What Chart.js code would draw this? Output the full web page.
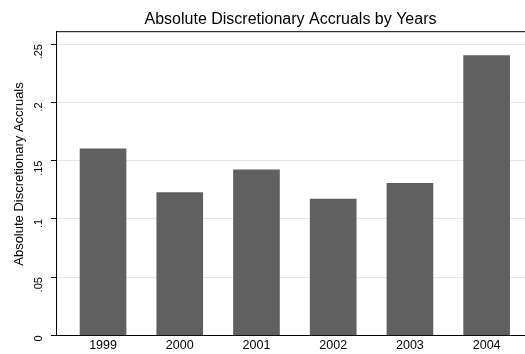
<!DOCTYPE html>
<html>
<head>
<meta charset="utf-8">
<script src="https://cdn.jsdelivr.net/npm/chart.js@4"></script>
<style>
  html, body { margin: 0; padding: 0; background: #fff; }
  #wrap { width: 525px; height: 354px; }
</style>
</head>
<body>
<div id="wrap"><canvas id="c"></canvas></div>
<script>
const years = [1999, 2000, 2001, 2002, 2003, 2004];
const accruals = [0.160, 0.1225, 0.142, 0.117, 0.1305, 0.240];
const yTicks = [0, 0.05, 0.1, 0.15, 0.2, 0.25];
const yTitle = 'Absolute Discretionary Accruals';

const FONT = 'Liberation Sans, Arial, sans-serif';

// top/left frame of the plot region plus the y axis title (placed like Stata does)
const frame = {
  id: 'frame',
  afterDraw(chart) {
    const { ctx, chartArea: a } = chart;
    ctx.save();
    ctx.strokeStyle = '#000';
    ctx.lineWidth = 1;
    ctx.beginPath();
    ctx.moveTo(a.left + 0.5, a.bottom);
    ctx.lineTo(a.left + 0.5, a.top + 0.5);
    ctx.lineTo(a.right, a.top + 0.5);
    ctx.stroke();

    ctx.translate(19, 174);
    ctx.rotate(-Math.PI / 2);
    ctx.fillStyle = '#000';
    ctx.font = '13px ' + FONT;
    ctx.textAlign = 'center';
    ctx.textBaseline = 'middle';
    ctx.fillText(yTitle, 0, 0);
    ctx.restore();
  }
};

const fmt = v => v === 0 ? '0' : String(+v.toFixed(2)).replace(/^0/, '');

new Chart(document.getElementById('c').getContext('2d'), {
  type: 'bar',
  data: {
    datasets: [{
      data: years.map((y, i) => ({ x: y, y: accruals[i] })),
      backgroundColor: '#606060',
      barThickness: 46
    }]
  },
  options: {
    responsive: true,
    maintainAspectRatio: false,
    animation: false,
    layout: { padding: 0 },
    plugins: {
      legend: { display: false },
      tooltip: { enabled: false },
      title: {
        display: true,
        fullSize: false,
        text: 'Absolute Discretionary Accruals by Years',
        color: '#000',
        font: { family: FONT, size: 16, weight: 'normal' },
        padding: { top: 10, bottom: 2 }
      }
    },
    scales: {
      x: {
        type: 'linear',
        offset: false,
        min: 1998.387,
        max: 2004.5,
        afterBuildTicks: s => { s.ticks = years.map(v => ({ value: v })); },
        afterFit: s => { s.height = 16; },
        grid: { display: false, drawTicks: false },
        border: { color: '#000', width: 1 },
        ticks: {
          color: '#000',
          padding: 3,
          font: { family: FONT, size: 12.5 },
          callback: v => String(v)
        }
      },
      y: {
        min: 0,
        max: 0.261,
        afterBuildTicks: s => { s.ticks = yTicks.map(v => ({ value: v })); },
        afterFit: s => { s.width = 56; },
        grid: { color: '#e6e6e6', tickColor: '#000', tickLength: 5 },
        border: { color: '#000', width: 1 },
        ticks: {
          color: '#000',
          minRotation: 90,
          maxRotation: 90,
          padding: 12,
          font: { family: FONT, size: 11 },
          callback: v => fmt(v)
        }
      }
    }
  },
  plugins: [frame]
});
</script>
</body>
</html>
